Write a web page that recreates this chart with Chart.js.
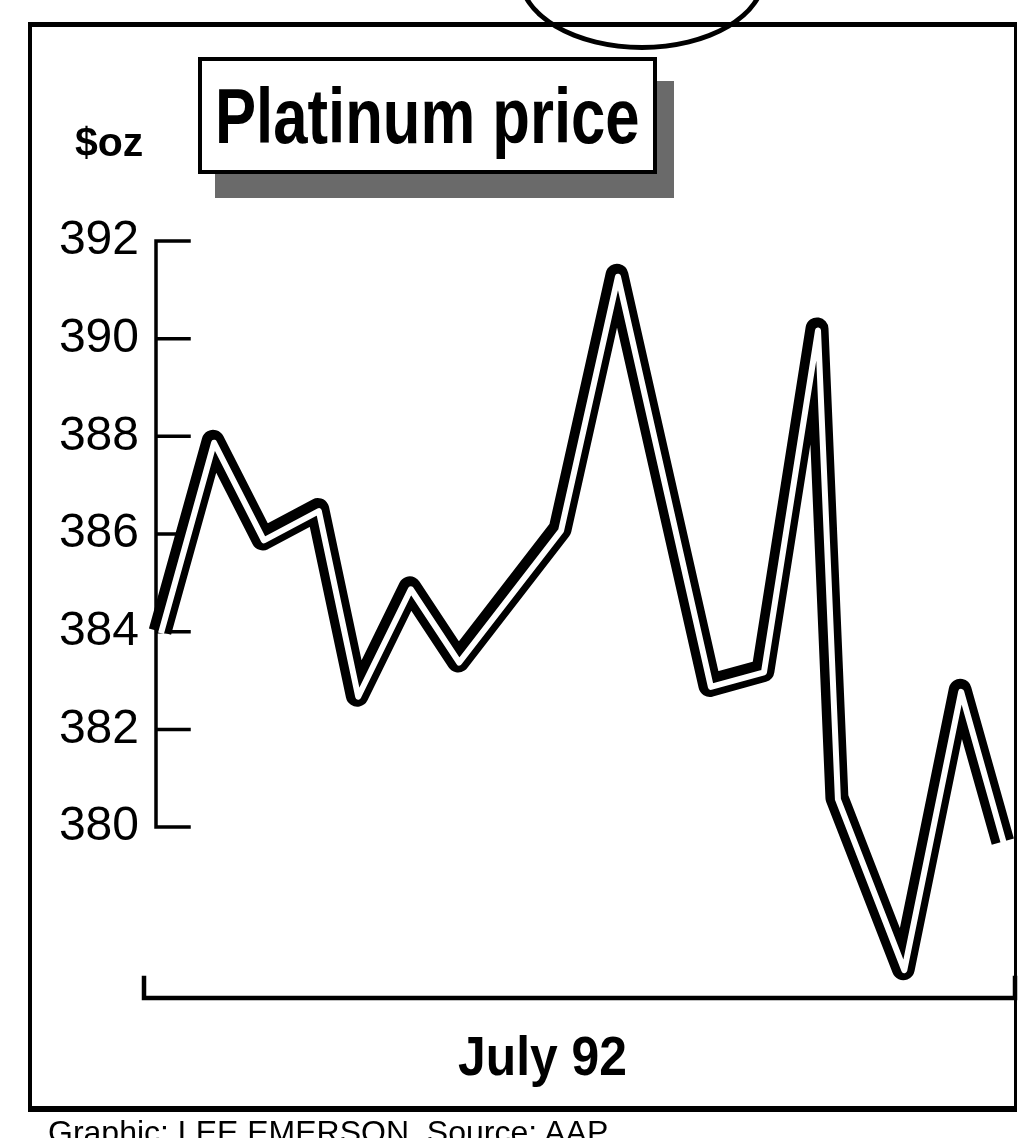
<!DOCTYPE html>
<html lang="en">
<head>
  <meta charset="UTF-8" />
  <title>Platinum price</title>
  <script src="https://cdn.jsdelivr.net/npm/chart.js"></script>
  <style>
    body {
      margin: 0;
      width: 1018px;
      height: 1138px;
      overflow: hidden;
      background: #fff;
      font-family: "Liberation Sans", Arial, sans-serif;
      color: #000;
      position: relative;
    }

    #chart {
      position: absolute;
      left: 0;
      top: 0;
    }

    .frame {
      position: absolute;
      box-sizing: border-box;
      left: 28px;
      top: 22px;
      width: 989px;
      height: 1090px;
      border-style: solid;
      border-color: #000;
      border-width: 5px 3px 6px 4px;
    }

    .stamp {
      position: absolute;
      box-sizing: border-box;
      left: 518px;
      top: -98px;
      width: 248px;
      height: 148px;
      border: 5px solid #000;
      border-radius: 50%;
    }

    .title-box {
      position: absolute;
      box-sizing: border-box;
      left: 198px;
      top: 57px;
      width: 459px;
      height: 117px;
      border: 4px solid #000;
      background: #fff;
      box-shadow: 17px 24px 0 #6a6a6a;
    }

    .txt {
      position: absolute;
      line-height: 1;
      white-space: nowrap;
      transform-origin: 0 0;
    }

    .title {
      left: 215px;
      top: 77px;
      font-size: 78px;
      font-weight: bold;
      transform: scaleX(0.79);
    }

    .unit {
      left: 75px;
      top: 122px;
      font-size: 41px;
      font-weight: bold;
    }

    .month {
      left: 458px;
      top: 1028px;
      font-size: 56px;
      font-weight: bold;
      transform: scaleX(0.89);
    }

    .credit {
      left: 48px;
      top: 1116px;
      font-size: 32px;
    }
  </style>
</head>
<body>
  <canvas id="chart" width="1018" height="1138"></canvas>

  <div class="frame"></div>
  <div class="stamp"></div>
  <div class="title-box"></div>
  <div class="txt title">Platinum price</div>
  <div class="txt unit">$oz</div>
  <div class="txt month">July 92</div>
  <div class="txt credit">Graphic: LEE EMERSON, Source: AAP</div>

<script>
  // trading-day position along the July axis, and price in $/oz
  const days   = [0, 1.12, 2.17, 3.33, 4.16, 5.27, 6.29, 8.44, 9.64, 11.60, 12.72, 13.86, 14.28, 15.68, 16.88, 17.78];
  const prices = [384.0, 387.9, 385.9, 386.5, 382.7, 384.9, 383.4, 386.1, 391.3, 382.9, 383.2, 390.2, 380.6, 377.1, 382.8, 379.7];
  const yTicks = [380, 382, 384, 386, 388, 390, 392];

  const points = days.map((d, i) => ({ x: d, y: prices[i] }));

  // bracket-style y axis and the long base line
  const axisPlugin = {
    id: 'axisLines',
    beforeDatasetsDraw(chart) {
      const { ctx, chartArea, scales } = chart;
      const y = scales.y;
      const x0 = chartArea.left - 4;
      ctx.save();
      ctx.strokeStyle = '#000';
      ctx.lineCap = 'square';

      ctx.lineWidth = 3.5;
      ctx.beginPath();
      ctx.moveTo(x0, y.getPixelForValue(yTicks[yTicks.length - 1]));
      ctx.lineTo(x0, y.getPixelForValue(yTicks[0]));
      yTicks.forEach(v => {
        const py = y.getPixelForValue(v);
        ctx.moveTo(x0, py);
        ctx.lineTo(x0 + 33, py);
      });
      ctx.stroke();

      const by = chartArea.bottom;
      ctx.lineWidth = 4.5;
      ctx.beginPath();
      ctx.moveTo(chartArea.left - 16, by - 20);
      ctx.lineTo(chartArea.left - 16, by);
      ctx.lineTo(chartArea.right - 3, by);
      ctx.lineTo(chartArea.right - 3, by - 20);
      ctx.stroke();
      ctx.restore();
    },
    // nudge the white inner line a little down-right, like the print
    beforeDatasetDraw(chart, args) {
      if (args.index === 0) {
        chart.ctx.save();
        chart.ctx.translate(1, 1.5);
      }
    },
    afterDatasetDraw(chart, args) {
      if (args.index === 0) chart.ctx.restore();
    }
  };

  new Chart(document.getElementById('chart'), {
    type: 'line',
    data: {
      // dataset 0 is drawn last, so the white core sits on the black band
      datasets: [{
        data: points,
        borderColor: '#fff',
        borderWidth: 6,
        borderJoinStyle: 'round',
        pointRadius: 0,
        tension: 0,
        clip: false
      }, {
        data: points,
        borderColor: '#000',
        borderWidth: 23,
        borderJoinStyle: 'round',
        pointRadius: 0,
        tension: 0,
        clip: false
      }]
    },
    options: {
      responsive: false,
      animation: false,
      layout: {
        padding: { left: 60, top: 241, right: 0, bottom: 140 }
      },
      plugins: {
        legend: { display: false },
        tooltip: { enabled: false }
      },
      scales: {
        x: {
          type: 'linear',
          display: false,
          min: 0,
          max: 18.1
        },
        y: {
          min: 376.5,
          max: 392,
          afterBuildTicks: s => { s.ticks = yTicks.map(v => ({ value: v })); },
          afterFit: s => { s.width = 100; },
          grid: { display: false },
          border: { display: false },
          ticks: {
            padding: 13,
            color: '#000',
            font: { family: '"Liberation Sans", Arial, sans-serif', size: 48 }
          }
        }
      }
    },
    plugins: [axisPlugin]
  });
</script>

</body>
</html>
